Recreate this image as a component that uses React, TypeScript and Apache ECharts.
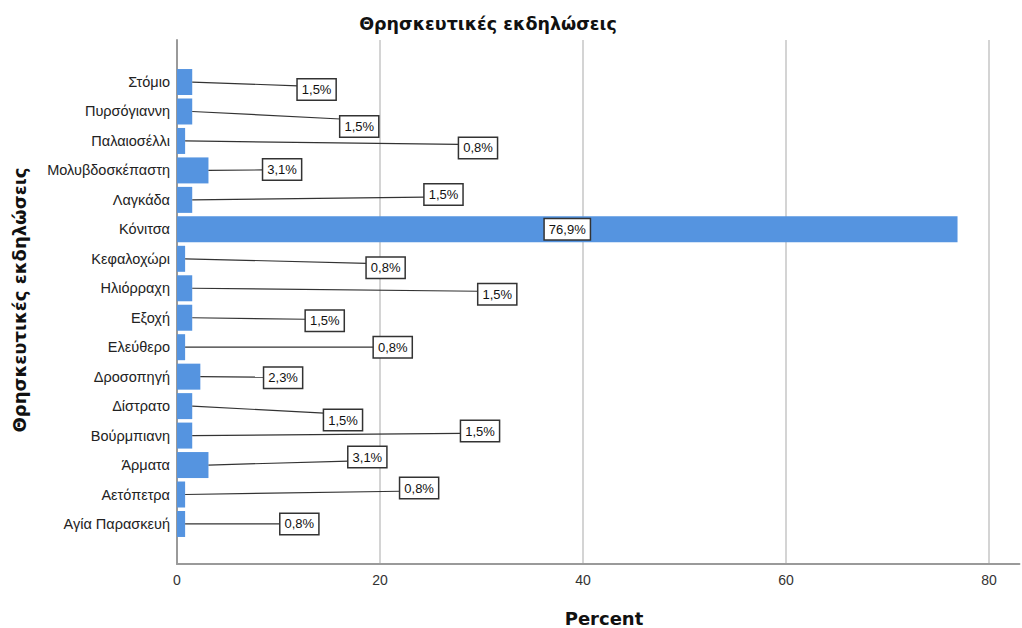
import React, { useEffect, useRef } from "react";
import * as echarts from "echarts";

// Data
const categories = [
  "Στόμιο",
  "Πυρσόγιαννη",
  "Παλαιοσέλλι",
  "Μολυβδοσκέπαστη",
  "Λαγκάδα",
  "Κόνιτσα",
  "Κεφαλοχώρι",
  "Ηλιόρραχη",
  "Εξοχή",
  "Ελεύθερο",
  "Δροσοπηγή",
  "Δίστρατο",
  "Βούρμπιανη",
  "Άρματα",
  "Αετόπετρα",
  "Αγία Παρασκευή",
];
const percents = [1.5, 1.5, 0.8, 3.1, 1.5, 76.9, 0.8, 1.5, 1.5, 0.8, 2.3, 1.5, 1.5, 3.1, 0.8, 0.8];
const xTicks = [0, 20, 40, 60, 80];

// Label box placement (layout only): left edge in axis units (null = centred in bar), vertical offset in px
const labelX = [11.9, 16.1, 27.8, 8.5, 24.4, null, 18.7, 29.7, 12.7, 19.4, 8.6, 14.5, 28.0, 16.9, 22.0, 10.2];
const labelDy = [7.5, 15, 7, -1, -5.5, 0, 9, 6, 3, 0, 1, 14, -4.5, -8, -6.5, 0];

const TITLE = "Θρησκευτικές εκδηλώσεις";
const X_NAME = "Percent";
const Y_NAME = "Θρησκευτικές εκδηλώσεις";

const SANS = '"Liberation Sans", Arial, sans-serif';
const BOLD = '"DejaVu Sans", Verdana, sans-serif';

const PX_PER_UNIT = 812 / 80;
const X_MAX = 83;

const fmt = (v: number) => v.toFixed(1).replace(".", ",") + "%";

export default function App() {
  const ref = useRef<HTMLDivElement>(null);
  useEffect(() => {
    if (!ref.current) return;
    const chart = echarts.init(ref.current, null, { renderer: "svg" });
    const boxStyle = {
      fill: "#111",
      font: `13px ${SANS}`,
      backgroundColor: "#fff",
      borderColor: "#333",
      borderWidth: 1.5,
      padding: [4, 4, 3, 4],
    };
    const option: any = {
      animation: false,
      backgroundColor: "#fff",
      grid: [
        { left: 177, top: 40, width: 812, bottom: 64 },
        { left: 177, top: 67.3, width: X_MAX * PX_PER_UNIT, height: 471.4 },
        { left: 177, top: 40, width: X_MAX * PX_PER_UNIT, bottom: 64 },
      ],
      xAxis: [
        {
          gridIndex: 0,
          type: "value",
          min: xTicks[0],
          max: xTicks[xTicks.length - 1],
          interval: 20,
          axisLine: { show: false },
          axisTick: { show: false },
          axisLabel: { color: "#333", fontSize: 14, fontFamily: SANS, margin: 9 },
          splitLine: { show: true, lineStyle: { color: "#d4d4d4", width: 2 } },
        },
        { gridIndex: 1, type: "value", min: 0, max: X_MAX, show: false },
        {
          gridIndex: 2,
          type: "value",
          min: 0,
          max: X_MAX,
          axisLine: { show: true, lineStyle: { color: "#9a9a9a", width: 2 } },
          axisTick: { show: false },
          axisLabel: { show: false },
          splitLine: { show: false },
        },
      ],
      yAxis: [
        {
          gridIndex: 0,
          type: "value",
          axisLine: { show: true, lineStyle: { color: "#9a9a9a", width: 2 } },
          axisTick: { show: false },
          axisLabel: { show: false },
          splitLine: { show: false },
        },
        {
          gridIndex: 1,
          type: "category",
          data: categories,
          inverse: true,
          axisLine: { show: false },
          axisTick: { show: false },
          axisLabel: { color: "#222", fontSize: 14.5, fontFamily: SANS, margin: 7 },
        },
        { gridIndex: 2, type: "value", show: false },
      ],
      series: [
        {
          type: "bar",
          xAxisIndex: 1,
          yAxisIndex: 1,
          data: percents,
          barWidth: 26,
          itemStyle: { color: "#5594e0" },
        },
        {
          type: "custom",
          xAxisIndex: 1,
          yAxisIndex: 1,
          data: percents.map((v, i) => [v, i]),
          encode: { x: 0, y: 1 },
          z: 10,
          renderItem: (params: any, api: any) => {
            const i = params.dataIndex;
            const v = percents[i];
            const text = fmt(v);
            const lx = labelX[i];
            if (lx === null || lx === undefined) {
              const c = api.coord([v / 2, i]);
              return {
                type: "text",
                x: c[0],
                y: c[1],
                style: { ...boxStyle, text, align: "center", verticalAlign: "middle", textAlign: "center", textVerticalAlign: "middle" },
              };
            }
            const end = api.coord([v, i]);
            const p = api.coord([lx, i]);
            const bx = p[0];
            const cy = p[1] + labelDy[i];
            const half = 11;
            let ey = (end[1] + cy) / 2;
            ey = Math.max(cy - half + 2, Math.min(cy + half - 2, ey));
            return {
              type: "group",
              children: [
                {
                  type: "line",
                  shape: { x1: end[0], y1: end[1], x2: bx, y2: ey },
                  style: { stroke: "#333", lineWidth: 1.2 },
                },
                {
                  type: "text",
                  x: bx,
                  y: cy,
                  style: { ...boxStyle, text, align: "left", verticalAlign: "middle", textAlign: "left", textVerticalAlign: "middle" },
                },
              ],
            };
          },
        },
      ],
      graphic: [
        {
          type: "text",
          x: 488,
          y: 24,
          style: { text: TITLE, font: `bold 17.5px ${BOLD}`, fill: "#111", align: "center", verticalAlign: "middle", textAlign: "center", textVerticalAlign: "middle" },
        },
        {
          type: "text",
          x: 604,
          y: 618,
          style: { text: X_NAME, font: `bold 18px ${BOLD}`, fill: "#111", align: "center", verticalAlign: "middle", textAlign: "center", textVerticalAlign: "middle" },
        },
        {
          type: "text",
          x: 19,
          y: 300,
          rotation: Math.PI / 2,
          style: { text: Y_NAME, font: `bold 18px ${BOLD}`, fill: "#111", align: "center", verticalAlign: "middle", textAlign: "center", textVerticalAlign: "middle" },
        },
      ],
    };
    chart.setOption(option);
    return () => chart.dispose();
  }, []);
  return <div ref={ref} style={{ position: "fixed", left: 0, top: 0, width: 1022, height: 628 }} />;
}
